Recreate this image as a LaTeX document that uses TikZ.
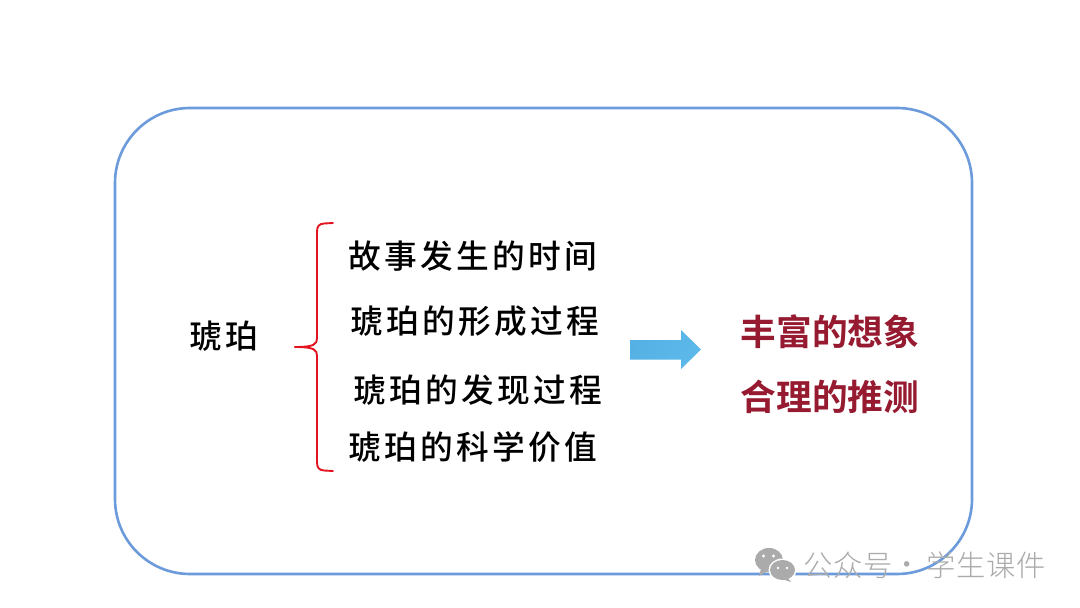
\documentclass[tikz,border=0pt]{standalone}
\usepackage{fontspec}
\newfontfamily\cjk[LetterSpace=10]{Noto Sans CJK SC Medium}
\newfontfamily\cjkm[LetterSpace=0]{Noto Sans CJK SC Bold}
\newfontfamily\cjkw[LetterSpace=3]{Noto Sans CJK SC Light}
\definecolor{frameblue}{HTML}{6C9BDC}
\definecolor{bracered}{HTML}{E2141F}
\definecolor{darkred}{HTML}{961A30}
\definecolor{arrowa}{HTML}{55B0E4}
\definecolor{arrowb}{HTML}{5DB9EA}
\definecolor{wm}{HTML}{ABABAB}
\tikzset{
  x=1pt,y=-1pt,
  item/.style={anchor=west,inner sep=0pt,font=\cjk\fontsize{32.7}{32.7}\selectfont,text=black},
  result/.style={anchor=west,inner sep=0pt,font=\cjkm\fontsize{35.7}{35.7}\selectfont,text=darkred},
  wmtext/.style={anchor=west,inner sep=0pt,font=\cjkw\fontsize{29.3}{29.3}\selectfont,text=wm},
  brace/.style={draw=bracered,line width=1.9pt,line cap=round},
}
\begin{document}
\begin{tikzpicture}
\useasboundingbox (0,0) rectangle (1080,608);
\fill[white] (0,0) rectangle (1080,608);
\node[draw=frameblue,line width=2.6pt,rounded corners=75pt,minimum width=857pt,minimum height=466pt,inner sep=0pt] (frame) at (543.5,341) {};
\node[item] (amber) at (189,336.5) {琥珀};
\node[item] (t1) at (348.5,256) {故事发生的时间};
\node[item] (t2) at (350.5,321) {琥珀的形成过程};
\node[item] (t3) at (353.5,390) {琥珀的发现过程};
\node[item] (t4) at (348.5,447.5) {琥珀的科学价值};
\node[result] (r1) at (740.5,332) {丰富的想象};
\node[result] (r2) at (740.5,397) {合理的推测};
\coordinate (bt) at (333,223);
\coordinate (bb) at (333,471);
\coordinate (bm) at (295,347);
\draw[brace] (bt) -- (324,223.5) .. controls (319,224) and (317,226) .. (317,232)
  -- (317,338) .. controls (317,344) and (315,347) .. (bm);
\draw[brace] (bb) -- (324,470.5) .. controls (319,470) and (317,468) .. (317,462)
  -- (317,356) .. controls (317,350) and (315,347) .. (bm);
\path[left color=arrowa,right color=arrowb,shading angle=60]
  (630,340) -- (681,340) -- (681,330) -- (701,349.5) -- (681,369) -- (681,359.5) -- (630,359.5) -- cycle;
% watermark icon
\fill[wm] (769,560) ellipse (14 and 12);
\fill[wm] (761,569) -- (759,576) -- (768,571) -- cycle;
\fill[white] (782.5,570) ellipse (14 and 11.5);
\fill[wm] (782.5,570) ellipse (12.5 and 10);
\fill[wm] (788,578) -- (791,582) -- (782,579) -- cycle;
\fill[white] (763.5,556) circle (1.6) (773.5,556) circle (1.6) (778,568) circle (1.3) (787,568) circle (1.3);
\node[wmtext] (w1) at (803,565) {公众号};
\node[wmtext] (w2) at (892,569) {·};
\node[wmtext] (w3) at (926,565) {学生课件};
\end{tikzpicture}
\end{document}
